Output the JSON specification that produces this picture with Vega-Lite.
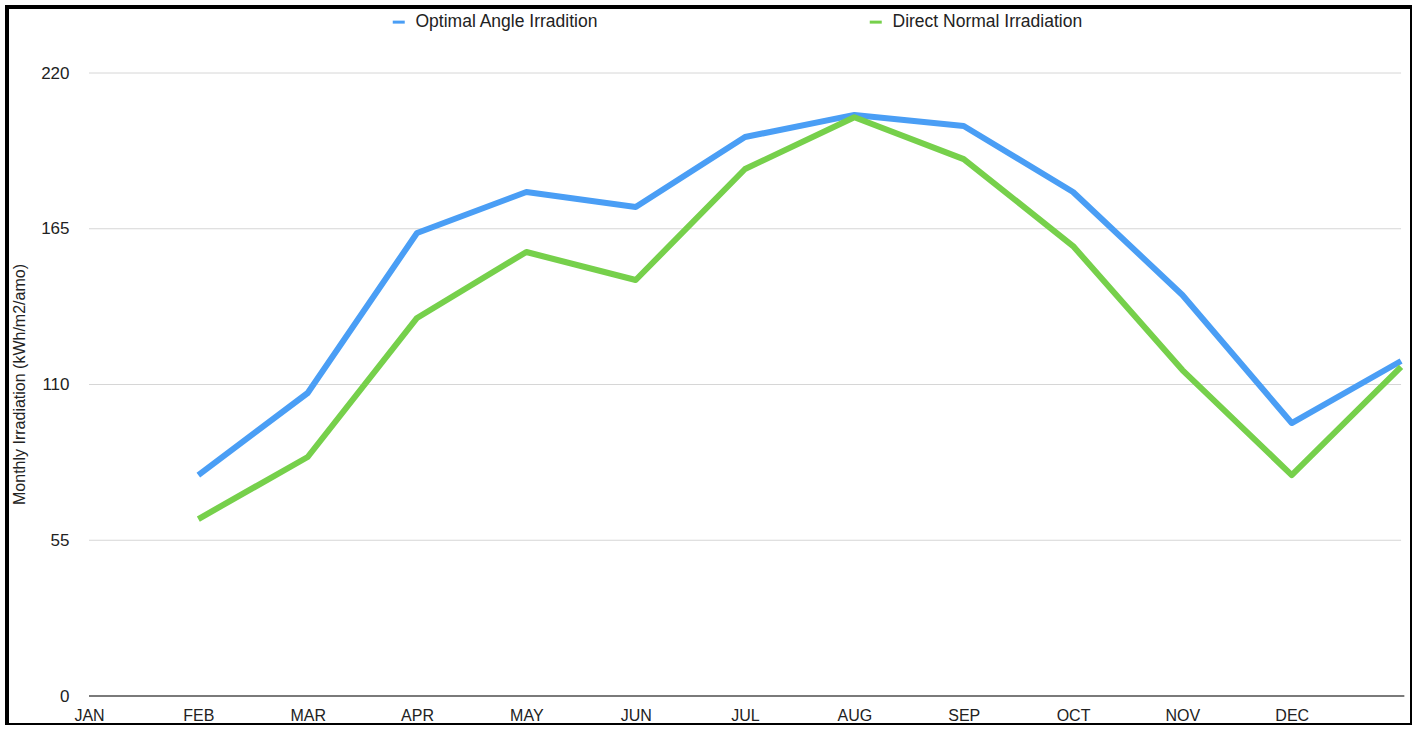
{
  "$schema": "https://vega.github.io/schema/vega-lite/v6.json",
  "width": 1405,
  "height": 718,
  "autosize": "none",
  "padding": {"left": 7, "top": 7, "right": 0, "bottom": 0},
  "background": "white",
  "config": {
    "view": {"stroke": "black", "strokeWidth": 4},
    "font": "Liberation Sans",
    "axis": {"labelColor": "#222", "titleColor": "#222"}
  },
  "datasets": {
    "series": [
      {"m": 1, "series": "Optimal Angle Irradition", "v": 78.0},
      {"m": 2, "series": "Optimal Angle Irradition", "v": 107.0},
      {"m": 3, "series": "Optimal Angle Irradition", "v": 163.5},
      {"m": 4, "series": "Optimal Angle Irradition", "v": 178.0},
      {"m": 5, "series": "Optimal Angle Irradition", "v": 172.7},
      {"m": 6, "series": "Optimal Angle Irradition", "v": 197.4},
      {"m": 7, "series": "Optimal Angle Irradition", "v": 205.2},
      {"m": 8, "series": "Optimal Angle Irradition", "v": 201.3},
      {"m": 9, "series": "Optimal Angle Irradition", "v": 178.0},
      {"m": 10, "series": "Optimal Angle Irradition", "v": 141.6},
      {"m": 11, "series": "Optimal Angle Irradition", "v": 96.4},
      {"m": 12, "series": "Optimal Angle Irradition", "v": 118.3},
      {"m": 1, "series": "Direct Normal Irradiation", "v": 62.5},
      {"m": 2, "series": "Direct Normal Irradiation", "v": 84.4},
      {"m": 3, "series": "Direct Normal Irradiation", "v": 133.5},
      {"m": 4, "series": "Direct Normal Irradiation", "v": 156.8},
      {"m": 5, "series": "Direct Normal Irradiation", "v": 146.9},
      {"m": 6, "series": "Direct Normal Irradiation", "v": 186.1},
      {"m": 7, "series": "Direct Normal Irradiation", "v": 204.4},
      {"m": 8, "series": "Direct Normal Irradiation", "v": 189.6},
      {"m": 9, "series": "Direct Normal Irradiation", "v": 158.9},
      {"m": 10, "series": "Direct Normal Irradiation", "v": 115.1},
      {"m": 11, "series": "Direct Normal Irradiation", "v": 78.0},
      {"m": 12, "series": "Direct Normal Irradiation", "v": 116.2}
    ],
    "grid": [{"v": 55}, {"v": 110}, {"v": 165}, {"v": 220}]
  },
  "layer": [
    {
      "data": {"name": "grid"},
      "mark": {"type": "rule", "color": "#d6d6d6", "strokeWidth": 1},
      "encoding": {
        "y": {"field": "v", "type": "quantitative", "scale": {"domain": [-10.24, 243.31], "nice": false, "zero": false},
          "axis": {
            "values": [0, 55, 110, 165, 220],
            "orient": "left",
            "offset": -82,
            "grid": false,
            "domain": false,
            "ticks": false,
            "labelPadding": 20,
            "labelFontSize": 17,
            "title": "Monthly Irradiation (kWh/m2/amo)",
            "titleFontSize": 16,
            "titleFontWeight": "normal",
            "titlePadding": 13,
            "titleY": 377
          }
        },
        "x": {"datum": 0, "type": "quantitative", "scale": {"domain": [-0.75, 12.1], "nice": false, "zero": false},
          "axis": {
            "values": [0, 1, 2, 3, 4, 5, 6, 7, 8, 9, 10, 11],
            "labelExpr": "['JAN','FEB','MAR','APR','MAY','JUN','JUL','AUG','SEP','OCT','NOV','DEC'][datum.value]",
            "orient": "bottom",
            "offset": -29,
            "grid": false,
            "domain": false,
            "ticks": false,
            "labelPadding": 11,
            "labelFontSize": 16,
            "title": null
          }
        },
        "x2": {"datum": 12}
      }
    },
    {
      "data": {"values": [{"v": 0}]},
      "mark": {"type": "rule", "color": "#7a7a7a", "strokeWidth": 2},
      "encoding": {
        "y": {"field": "v", "type": "quantitative"},
        "x": {"datum": 0, "type": "quantitative"},
        "x2": {"datum": 12.03}
      }
    },
    {
      "data": {"name": "series"},
      "mark": {"type": "line", "strokeWidth": 6, "strokeJoin": "round"},
      "encoding": {
        "x": {"field": "m", "type": "quantitative"},
        "y": {"field": "v", "type": "quantitative"},
        "color": {
          "field": "series",
          "type": "nominal",
          "scale": {"domain": ["Optimal Angle Irradition", "Direct Normal Irradiation"], "range": ["#4A9EF5", "#76D04B"]},
          "legend": {
            "orient": "none",
            "legendX": 383,
            "legendY": 6,
            "direction": "horizontal",
            "title": null,
            "padding": 0,
            "symbolType": "stroke",
            "symbolSize": 144,
            "symbolStrokeWidth": 3,
            "labelFontSize": 17.5,
            "labelLimit": 400,
            "labelColor": "#222",
            "labelOffset": 8,
            "columnPadding": 264
          }
        }
      }
    }
  ]
}
